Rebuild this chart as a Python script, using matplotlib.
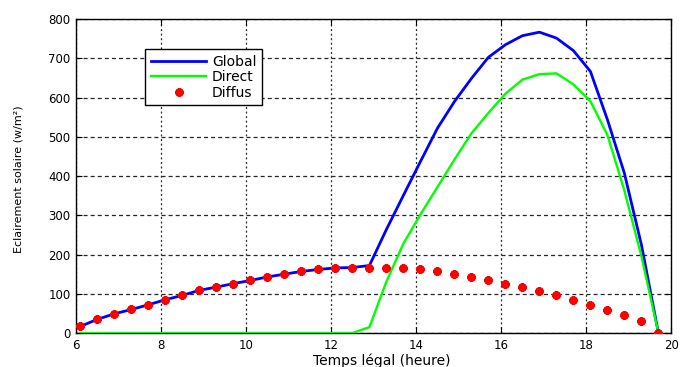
import matplotlib
matplotlib.use("Agg")
import matplotlib.pyplot as plt

plt.rcParams['font.family'] = ['DejaVu Sans']
plt.rcParams['lines.scale_dashes'] = False

# temps légal (heure), pas de 0.4 h
heures = [6.1, 6.5, 6.9, 7.3, 7.7, 8.1, 8.5, 8.9, 9.3, 9.7, 10.1, 10.5,
          10.9, 11.3, 11.7, 12.1, 12.5, 12.9, 13.3, 13.7, 14.1, 14.5, 14.9,
          15.3, 15.7, 16.1, 16.5, 16.9, 17.3, 17.7, 18.1, 18.5, 18.9, 19.3, 19.7]

# éclairement (W/m²)
diffus = [17, 35, 49, 60, 72, 85, 96, 109, 117, 126, 134, 143,
          150, 157, 162, 166, 167, 167, 167, 166, 162, 157, 150,
          143, 136, 126, 117, 107, 96, 83, 72, 58, 45, 31, 0]
direct = [0, 0, 0, 0, 0, 0, 0, 0, 0, 0, 0, 0,
          0, 0, 0, 0, 0, 15, 131, 228, 302, 372, 442,
          509, 561, 610, 646, 660, 662, 634, 591, 505, 363, 196, 0]
glob = [17, 35, 49, 60, 72, 85, 96, 109, 117, 126, 134, 143,
        150, 157, 162, 166, 167, 172, 264, 351, 437, 522, 590,
        649, 703, 735, 758, 767, 752, 720, 667, 544, 407, 225, 0]

xticks = [6, 8, 10, 12, 14, 16, 18, 20]
yticks = [0, 100, 200, 300, 400, 500, 600, 700, 800]

fig = plt.figure(figsize=(6.8, 3.67), dpi=100)
ax = fig.add_axes([0.112, 0.0926, 0.875, 0.855])

ax.plot(heures, glob, color=(0, 0, 1), lw=2.0, label='Global', zorder=3)
ax.plot(heures, direct, color=(0, 1, 0), lw=1.7, label='Direct', zorder=4)
ax.plot(heures, diffus, ls='none', marker=(8, 2, 0), ms=6, mew=2.0,
        color=(1, 0, 0), label='Diffus', zorder=5)

ax.set_xlim(6, 20)
ax.set_ylim(0, 800)
ax.set_xticks(xticks)
ax.set_yticks(yticks)
ax.tick_params(direction='in', length=4, width=0.8, top=True, right=True,
               labelsize=8.5, pad=4)

ax.xaxis.grid(True, color='0.15', lw=0.9, linestyle=(0, (1.4, 1.9)))
ax.yaxis.grid(True, color='0.15', lw=0.9, linestyle=(0, (2.9, 2.2)))
ax.set_axisbelow(True)
for s in ax.spines.values():
    s.set_linewidth(1.0)

ax.set_xlabel('Temps légal (heure)', fontsize=10)
ax.xaxis.set_label_coords(0.513, -0.065)
ax.set_ylabel('Eclairement solaire (w/m²)', fontsize=8)
ax.yaxis.set_label_coords(-0.089, 0.49)

leg = ax.legend(loc='upper left', bbox_to_anchor=(0.116, 0.904),
                borderaxespad=0, fontsize=10, fancybox=False, framealpha=1,
                edgecolor='black', handlelength=4.0, handletextpad=0.4,
                labelspacing=0.1, borderpad=0.4, numpoints=1)
leg.get_frame().set_linewidth(1.0)

fig.savefig('out.png', dpi=100)
